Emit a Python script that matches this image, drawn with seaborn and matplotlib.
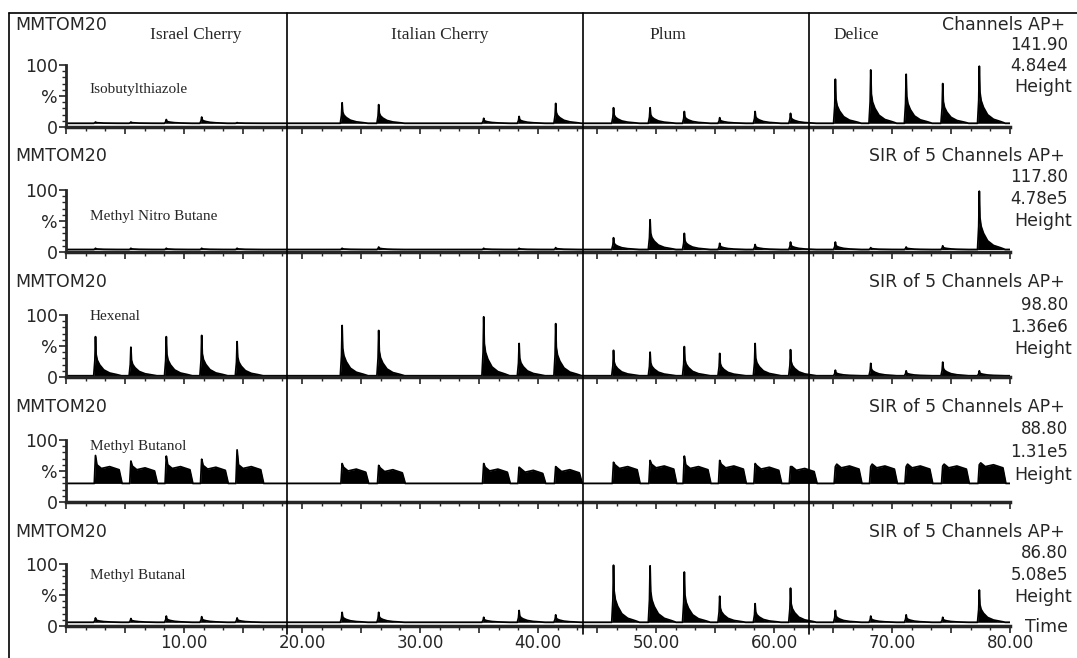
import numpy as np
import pandas as pd
import seaborn as sns
import matplotlib.pyplot as plt
from matplotlib.lines import Line2D
from matplotlib.ticker import FixedLocator

# injection times (min), one group per fruit
israel = [2.5, 5.5, 8.5, 11.5, 14.5]
italian = [23.4, 26.5, 35.4, 38.4, 41.5]
plum = [46.4, 49.5, 52.4, 55.4, 58.4, 61.4]
delice = [65.2, 68.2, 71.2, 74.3, 77.4]
times = israel + italian + plum + delice

dividers = [18.7, 43.8, 63.0]
fruit_names = ["Israel Cherry", "Italian Cherry", "Plum", "Delice"]

compounds = ["Isobutylthiazole", "Methyl Nitro Butane", "Hexenal",
             "Methyl Butanol", "Methyl Butanal"]
masses = ["141.90", "117.80", "98.80", "88.80", "86.80"]
intensities = ["4.84e4", "4.78e5", "1.36e6", "1.31e5", "5.08e5"]
baselines = [6, 4, 2, 30, 6]

# peak heights (% of full scale) read per injection, order = times
isobutylthiazole = [8, 8, 12, 16, 7,   39, 36, 14, 17, 38,
                    31, 31, 25, 15, 25, 22,   77, 92, 85, 70, 98]
methyl_nitro_butane = [6, 6, 6, 6, 6,   6, 8, 6, 6, 7,
                       23, 52, 30, 14, 12, 16,   16, 7, 8, 10, 98]
hexenal = [65, 48, 65, 67, 57,   83, 75, 97, 54, 86,
           43, 40, 49, 38, 54, 44,   11, 22, 10, 24, 10]
methyl_butanol = [75, 66, 74, 69, 84,   62, 59, 62, 56, 57,
                  64, 67, 74, 67, 62, 57,   57, 57, 57, 58, 60]
butanol_plateau = [54, 52, 54, 53, 54,   50, 49, 50, 48, 49,
                   54, 55, 54, 55, 53, 51,   55, 55, 55, 55, 57]
methyl_butanal = [13, 12, 16, 15, 13,   22, 22, 14, 25, 18,
                  98, 97, 87, 48, 36, 61,   25, 16, 18, 14, 58]

panel_peaks = [isobutylthiazole, methyl_nitro_butane, hexenal,
               methyl_butanol, methyl_butanal]

# peak outline template: offset (min), fraction of peak height above base
spike_dx = [-0.15, -0.05, 0.0, 0.05, 0.15, 0.35, 0.7, 1.2, 1.8, 2.2]
spike_fr = [0.0, 0.4, 1.0, 0.55, 0.4, 0.28, 0.15, 0.07, 0.03, 0.0]


def trace(heights, base, plateau=None):
    xs, ys = [0.0], [base]
    for i, (t, h) in enumerate(zip(times, heights)):
        if plateau is None:
            for dx, fr in zip(spike_dx, spike_fr):
                xs.append(t + dx)
                ys.append(base + fr * (h - base))
        else:
            p = plateau[i]
            xs += [t - 0.1, t, t + 0.12, t + 0.5, t + 1.2, t + 2.0, t + 2.25]
            ys += [base, h, p + 6, p, p + 3, p - 2, base]
    xs.append(80.0)
    ys.append(base)
    return pd.DataFrame({"time": xs, "pct": ys})


sns.set_style("ticks")
plt.rcParams["font.family"] = ["DejaVu Sans"]

W, H = 1077, 658
fig = plt.figure(figsize=(W / 100, H / 100), dpi=100)
zero_px = [127, 252, 377, 502, 626]
header_px = [25, 156, 282, 407, 532]
step_px = [20.5, 21.5, 22.5, 22.5, 21.5]
label_y = [60, 57, 97, 90, 82]
axes = []
for k, y0 in enumerate(zero_px):
    ax = fig.add_axes([66 / W, 1 - y0 / H, 944 / W, 62 / H])
    axes.append(ax)
    df = trace(panel_peaks[k], baselines[k],
               butanol_plateau if k == 3 else None)
    ax.fill_between(df["time"], baselines[k], df["pct"], color="black", lw=0)
    sns.lineplot(data=df, x="time", y="pct", ax=ax, color="black", lw=1.3,
                 sort=False, estimator=None)
    ax.set_xlim(0, 80)
    ax.set_ylim(0, 100)
    ax.set_xlabel("")
    ax.set_ylabel("")
    for s in ["top", "right"]:
        ax.spines[s].set_visible(False)
    ax.spines["left"].set_linewidth(2)
    ax.spines["bottom"].set_linewidth(2.5)
    ax.yaxis.set_major_locator(FixedLocator([0, 50, 100]))
    ax.set_yticklabels(["0", "%", "100"], fontsize=12.5)
    ax.yaxis.set_minor_locator(FixedLocator(list(range(0, 101, 10))))
    ax.xaxis.set_major_locator(FixedLocator(list(range(0, 81, 5))))
    ax.xaxis.set_minor_locator(FixedLocator([i * 5 / 3 for i in range(49)]))
    ax.tick_params(axis="both", which="major", length=5, width=1.2, pad=1)
    ax.tick_params(axis="both", which="minor", length=3, width=1)
    if k == 4:
        ax.set_xticklabels([f"{v:.2f}" if v % 10 == 0 and v > 0 else ""
                            for v in range(0, 81, 5)], fontsize=12)
    else:
        ax.set_xticklabels([])
    ax.text(2.0, label_y[k], compounds[k],
            family="Liberation Serif", fontsize=11, va="center", clip_on=False)

    # header / right-hand annotations
    yh = header_px[k]
    st = step_px[k]
    fig.text(15 / W, 1 - yh / H, "MMTOM20", fontsize=12.5, va="center")
    fig.text(1065 / W, 1 - yh / H,
             "Channels AP+" if k == 0 else "SIR of 5 Channels AP+",
             fontsize=12.5, ha="right", va="center")
    fig.text(1068 / W, 1 - (yh + st) / H, masses[k], fontsize=12,
             ha="right", va="center")
    fig.text(1068 / W, 1 - (yh + 2 * st) / H, intensities[k], fontsize=12,
             ha="right", va="center")
    fig.text(1072 / W, 1 - (yh + 3 * st) / H, "Height", fontsize=12.5,
             ha="right", va="center")

fig.text(1068 / W, 1 - 627 / H, "Time", fontsize=12.5, ha="right", va="center")

# fruit group names across the top panel
for name, xc in zip(fruit_names, [11.0, 31.7, 51.0, 67.0]):
    axes[0].text(xc, 148, name, family="Liberation Serif", fontsize=12.5,
                 ha="center", va="center", clip_on=False)

# divider lines through all panels
bot = axes[4]
for t in dividers:
    xf = fig.transFigure.inverted().transform(bot.transData.transform((t, 0)))[0]
    fig.add_artist(Line2D([xf, xf], [1 - 634 / H, 1 - 13 / H], color="black", lw=1.2))

# outer frame
fig.add_artist(Line2D([9 / W, 9 / W], [0, 1 - 13 / H], color="black", lw=1.2))
fig.add_artist(Line2D([9 / W, 1], [1 - 13 / H, 1 - 13 / H], color="black", lw=1.2))

fig.savefig("out.png", dpi=100)
